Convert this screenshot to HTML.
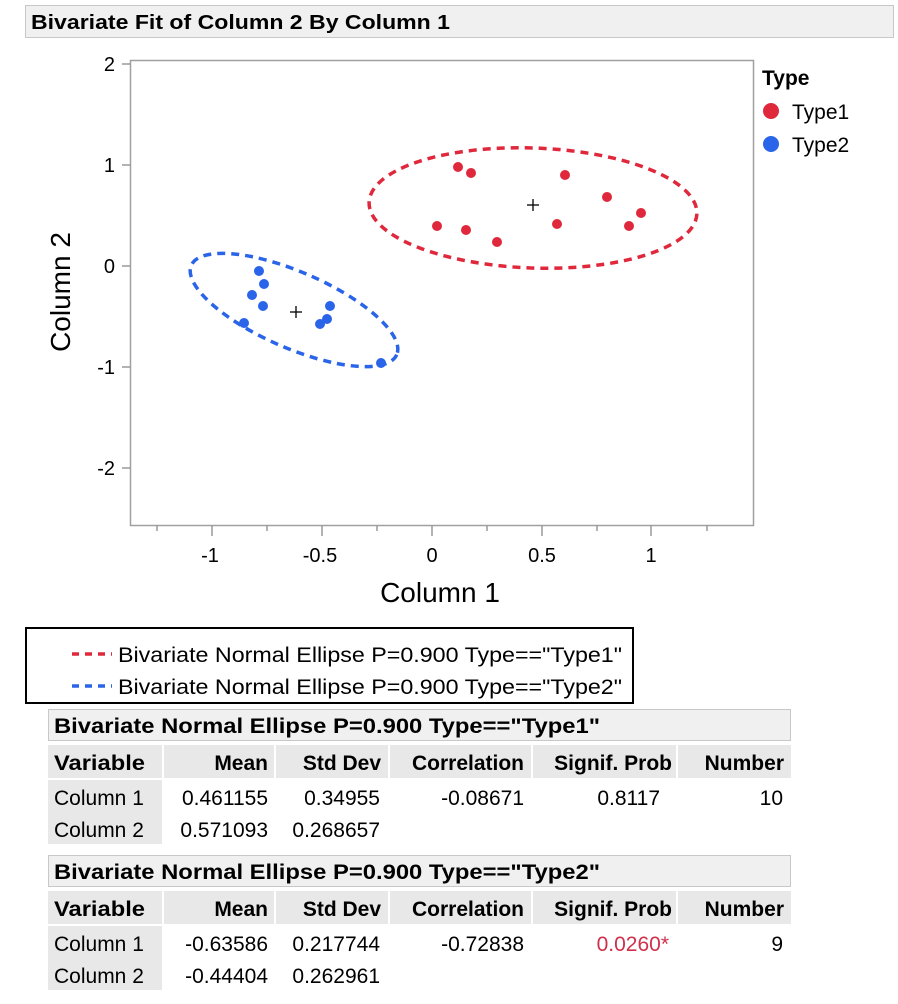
<!DOCTYPE html>
<html><head><meta charset="utf-8"><style>
html,body{margin:0;padding:0;background:#fff;}
svg text{font-family:"Liberation Sans",sans-serif;}
</style></head><body>
<svg width="898" height="999" viewBox="0 0 898 999" xmlns="http://www.w3.org/2000/svg">
<rect x="25.5" y="5.5" width="868" height="32" fill="#f0f0f0" stroke="#c8c8c8"/>
<text x="31" y="29" font-size="20" font-weight="bold" fill="#000" textLength="419" lengthAdjust="spacingAndGlyphs">Bivariate Fit of Column 2 By Column 1</text>

<rect x="130.5" y="60.5" width="623" height="465" fill="#fff" stroke="#a0a0a0" stroke-width="1.5"/>
<g stroke="#808080" stroke-width="1.2">
<line x1="122" y1="64" x2="130" y2="64"/><line x1="122" y1="165" x2="130" y2="165"/>
<line x1="122" y1="266" x2="130" y2="266"/><line x1="122" y1="367" x2="130" y2="367"/>
<line x1="122" y1="468" x2="130" y2="468"/>
<line x1="212" y1="526" x2="212" y2="536"/><line x1="322" y1="526" x2="322" y2="536"/>
<line x1="432" y1="526" x2="432" y2="536"/><line x1="542" y1="526" x2="542" y2="536"/>
<line x1="651" y1="526" x2="651" y2="536"/>
<line x1="157" y1="526" x2="157" y2="531"/><line x1="267" y1="526" x2="267" y2="531"/>
<line x1="377" y1="526" x2="377" y2="531"/><line x1="487" y1="526" x2="487" y2="531"/>
<line x1="597" y1="526" x2="597" y2="531"/><line x1="707" y1="526" x2="707" y2="531"/>
</g>
<g font-size="20" fill="#000" text-anchor="end">
<text x="115" y="71">2</text><text x="115" y="172">1</text><text x="115" y="273">0</text>
<text x="115" y="374">-1</text><text x="115" y="475">-2</text>
</g>
<g font-size="20" fill="#000" text-anchor="middle">
<text x="210" y="562">-1</text><text x="320" y="562">-0.5</text><text x="432" y="562">0</text>
<text x="542" y="562">0.5</text><text x="651" y="562">1</text>
</g>
<text x="440" y="602" font-size="28" text-anchor="middle">Column 1</text>
<text transform="translate(70,292) rotate(-90)" font-size="28" text-anchor="middle">Column 2</text>

<ellipse cx="533" cy="208" rx="164" ry="60" transform="rotate(2 533 208)" fill="none" stroke="#e0283c" stroke-width="3.5" stroke-dasharray="8,6"/>
<ellipse cx="294" cy="310" rx="112" ry="38" transform="rotate(23.5 294 310)" fill="none" stroke="#2a64e8" stroke-width="3.5" stroke-dasharray="8,6"/>

<g fill="#e0283c">
<circle cx="458" cy="167" r="5"/><circle cx="471" cy="173" r="5"/><circle cx="565" cy="175" r="5"/>
<circle cx="607" cy="197" r="5"/><circle cx="641" cy="213" r="5"/><circle cx="629" cy="226" r="5"/>
<circle cx="557" cy="224" r="5"/><circle cx="437" cy="226" r="5"/><circle cx="466" cy="230" r="5"/>
<circle cx="497" cy="242" r="5"/>
</g>
<g fill="#2a64e8">
<circle cx="259" cy="271" r="5"/><circle cx="264" cy="284" r="5"/><circle cx="252" cy="295" r="5"/>
<circle cx="263" cy="306" r="5"/><circle cx="244" cy="323" r="5"/><circle cx="330" cy="306" r="5"/>
<circle cx="327" cy="319" r="5"/><circle cx="320" cy="324" r="5"/><circle cx="381" cy="363" r="5"/>
</g>
<g stroke="#000" stroke-width="1.3">
<line x1="527" y1="205" x2="539" y2="205"/><line x1="533" y1="199" x2="533" y2="211"/>
<line x1="290" y1="312" x2="302" y2="312"/><line x1="296" y1="306" x2="296" y2="318"/>
</g>

<text x="762" y="85" font-size="21" font-weight="bold">Type</text>
<circle cx="771" cy="111" r="8" fill="#e0283c"/><text x="792" y="119" font-size="21">Type1</text>
<circle cx="771" cy="144" r="8" fill="#2a64e8"/><text x="792" y="152" font-size="21">Type2</text>

<rect x="26" y="628" width="607" height="75" fill="#fff" stroke="#000" stroke-width="2"/>
<line x1="72" y1="654" x2="112" y2="654" stroke="#e0283c" stroke-width="3.5" stroke-dasharray="7,6"/>
<line x1="72" y1="686" x2="112" y2="686" stroke="#2a64e8" stroke-width="3.5" stroke-dasharray="7,6"/>
<text x="118" y="662" font-size="21" textLength="504" lengthAdjust="spacingAndGlyphs">Bivariate Normal Ellipse P=0.900 Type=="Type1"</text>
<text x="118" y="694" font-size="21" textLength="504" lengthAdjust="spacingAndGlyphs">Bivariate Normal Ellipse P=0.900 Type=="Type2"</text>

<rect x="48.5" y="709.5" width="742" height="31" fill="#f0f0f0" stroke="#c8c8c8"/>
<text x="54" y="733" font-size="21" font-weight="bold" textLength="546" lengthAdjust="spacingAndGlyphs">Bivariate Normal Ellipse P=0.900 Type=="Type1"</text>
<g fill="#e8e8e8">
<rect x="48" y="745" width="114" height="33"/><rect x="164" y="745" width="110" height="33"/>
<rect x="276" y="745" width="112" height="33"/><rect x="390" y="745" width="141" height="33"/>
<rect x="533" y="745" width="143" height="33"/><rect x="678" y="745" width="113" height="33"/>
<rect x="48" y="780" width="114" height="64"/>
</g>
<g font-size="21" font-weight="bold">
<text x="54" y="770" textLength="91" lengthAdjust="spacingAndGlyphs">Variable</text>
<text x="268" y="770" text-anchor="end">Mean</text>
<text x="381" y="770" text-anchor="end">Std Dev</text>
<text x="524" y="770" text-anchor="end">Correlation</text>
<text x="672" y="770" text-anchor="end">Signif. Prob</text>
<text x="784" y="770" text-anchor="end">Number</text>
</g>
<g font-size="21">
<text x="54" y="805">Column 1</text><text x="54" y="837">Column 2</text>
<text x="268" y="805" text-anchor="end">0.461155</text><text x="268" y="837" text-anchor="end">0.571093</text>
<text x="380" y="805" text-anchor="end">0.34955</text><text x="380" y="837" text-anchor="end">0.268657</text>
<text x="524" y="805" text-anchor="end">-0.08671</text>
<text x="660" y="805" text-anchor="end">0.8117</text>
<text x="783" y="805" text-anchor="end">10</text>
</g>

<rect x="48.5" y="855.5" width="742" height="31" fill="#f0f0f0" stroke="#c8c8c8"/>
<text x="54" y="879" font-size="21" font-weight="bold" textLength="546" lengthAdjust="spacingAndGlyphs">Bivariate Normal Ellipse P=0.900 Type=="Type2"</text>
<g fill="#e8e8e8">
<rect x="48" y="891" width="114" height="33"/><rect x="164" y="891" width="110" height="33"/>
<rect x="276" y="891" width="112" height="33"/><rect x="390" y="891" width="141" height="33"/>
<rect x="533" y="891" width="143" height="33"/><rect x="678" y="891" width="113" height="33"/>
<rect x="48" y="926" width="114" height="64"/>
</g>
<g font-size="21" font-weight="bold">
<text x="54" y="916" textLength="91" lengthAdjust="spacingAndGlyphs">Variable</text>
<text x="268" y="916" text-anchor="end">Mean</text>
<text x="381" y="916" text-anchor="end">Std Dev</text>
<text x="524" y="916" text-anchor="end">Correlation</text>
<text x="672" y="916" text-anchor="end">Signif. Prob</text>
<text x="784" y="916" text-anchor="end">Number</text>
</g>
<g font-size="21">
<text x="54" y="951">Column 1</text><text x="54" y="983">Column 2</text>
<text x="268" y="951" text-anchor="end">-0.63586</text><text x="268" y="983" text-anchor="end">-0.44404</text>
<text x="380" y="951" text-anchor="end">0.217744</text><text x="380" y="983" text-anchor="end">0.262961</text>
<text x="524" y="951" text-anchor="end">-0.72838</text>
<text x="669" y="951" text-anchor="end" fill="#d0304a">0.0260*</text>
<text x="783" y="951" text-anchor="end">9</text>
</g>
</svg>
</body></html>
